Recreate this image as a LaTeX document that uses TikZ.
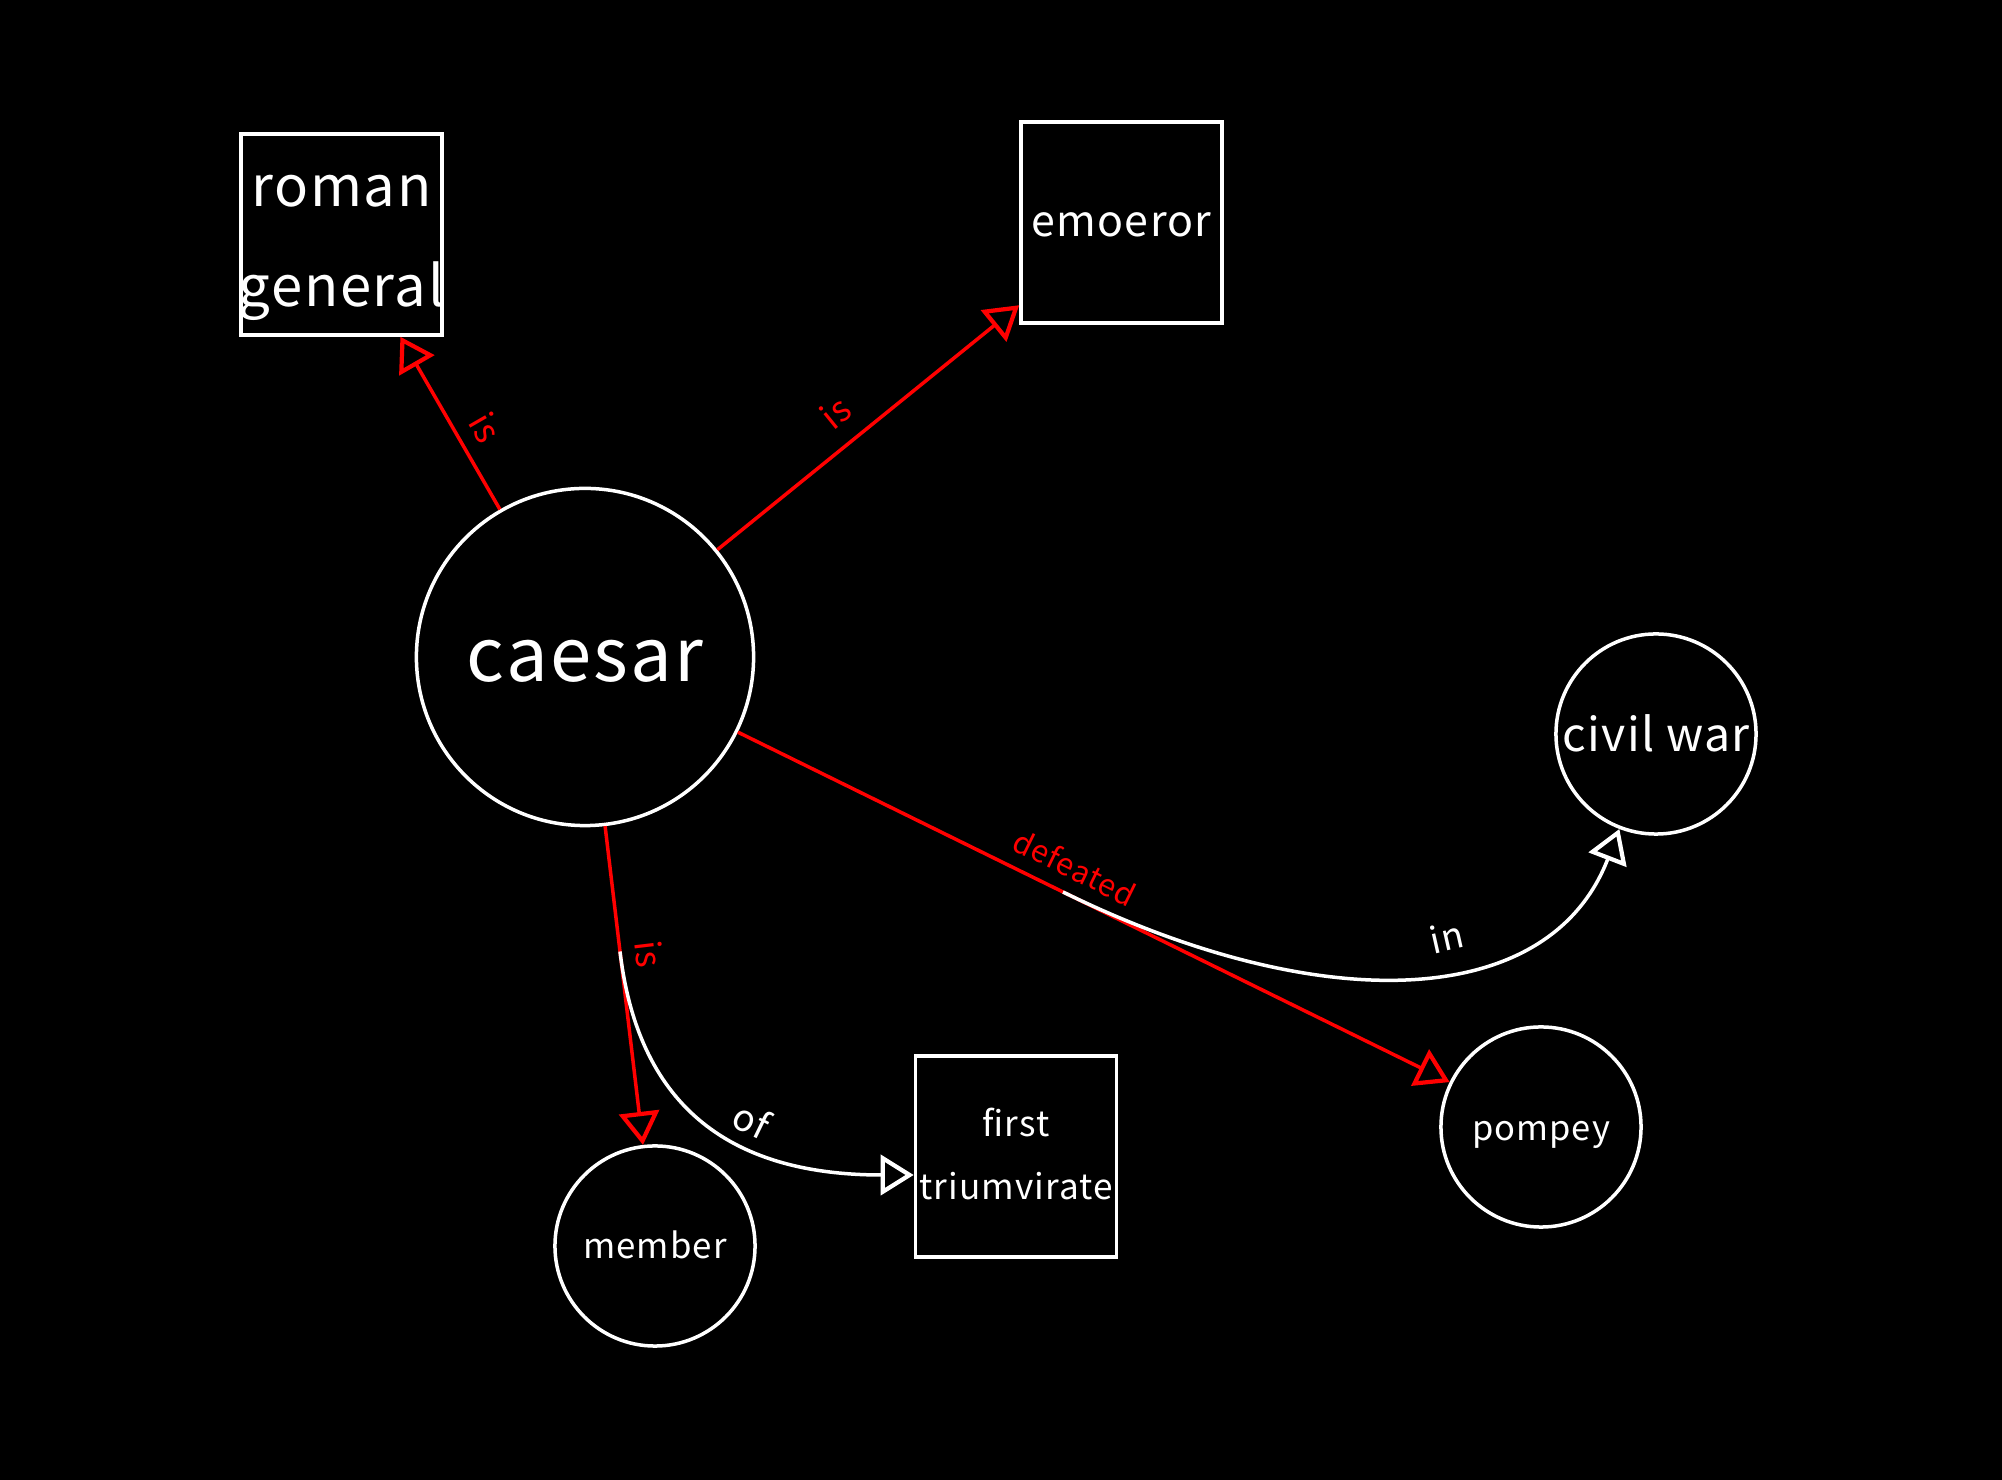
\documentclass[tikz,border=0pt]{standalone}
\usepackage{fontspec}
\setmainfont{Noto Sans CJK JP}[LetterSpace=3]
\usetikzlibrary{arrows.meta,calc}
\tikzset{
  conceptcircle/.style={circle, draw=white, line width=0.035cm, fill=black, text=white, inner sep=0pt, text depth=0pt},
  conceptbox/.style={rectangle, draw=white, line width=0.035cm, fill=black, text=white, inner xsep=-20pt, inner ysep=-20pt, text depth=0pt, minimum width=2.01cm, minimum height=2.01cm},
  redarrow/.style={draw=red, line width=0.035cm, -{Triangle[open, length=0.33cm, width=0.40cm, line width=1.2pt]}},
  whitearrow/.style={draw=white, line width=0.035cm, -{Triangle[open, length=0.33cm, width=0.40cm, line width=1.2pt]}},
  redlabel/.style={text=red, font=\fontsize{10pt}{12pt}\selectfont, inner sep=4pt},
  whitelabel/.style={text=white, inner sep=4pt}
}
\begin{document}
\begin{tikzpicture}[x=0.01cm, y=-0.01cm]
\fill[black] (0,0) rectangle (2002,1480);
\useasboundingbox (0,0) rectangle (2002,1480);

\node[conceptcircle, minimum size=3.37cm, text height=14.06pt, font=\fontsize{21.1pt}{25pt}\selectfont] (caesar) at (585,657) {caesar};
\node[conceptbox, align=center, text height=41.1pt, font=\fontsize{16pt}{28.45pt}\selectfont] (rg) at (341.5,234.5) {roman\\general};
\node[conceptbox, text height=8.08pt, font=\fontsize{12.2pt}{15pt}\selectfont] (emp) at (1121.5,222.5) {emoeror};
\node[conceptcircle, minimum size=2.0cm, text height=10.07pt, font=\fontsize{13.2pt}{16pt}\selectfont] (cw) at (1656,734) {civil war};
\node[conceptcircle, minimum size=2.0cm, text height=7.4pt, font=\fontsize{9.8pt}{12pt}\selectfont] (pom) at (1541,1127) {pompey};
\node[conceptcircle, minimum size=2.0cm, text height=7.0pt, font=\fontsize{9.9pt}{12pt}\selectfont] (mem) at (655,1246) {member};
\node[conceptbox, align=center, text height=24.35pt, font=\fontsize{10pt}{17.84pt}\selectfont] (ft) at (1016,1156.5) {first\\triumvirate};

% red relations
\draw[redarrow] (caesar) -- (rg);
\path (caesar.center) -- (rg.center) node[redlabel, pos=0.51, sloped, above] (l1) {is};
\draw[redarrow] (caesar) -- (emp);
\path (caesar.center) -- (emp.center) node[redlabel, inner sep=5pt, pos=0.505, sloped, above] (l2) {is};
\draw[redarrow] (caesar) -- (pom);
\path (caesar.center) -- (pom.center) coordinate[midway] (m3) node[redlabel, font=\fontsize{8.7pt}{10pt}\selectfont, midway, sloped, above] (l3) {defeated};
\draw[redarrow] (caesar) -- (mem);
\path (caesar.center) -- (mem.center) coordinate[midway] (m4) node[redlabel, pos=0.51, sloped, above] (l4) {is};

% relations on relations
\draw[whitearrow] (m3) .. controls ($(m3)!2.8cm!(pom.center)$) and ($(cw.center)+(-108,280)$) .. (cw)
  node[whitelabel, font=\fontsize{10.3pt}{12pt}\selectfont, pos=0.58, sloped, above=1pt] (l5) {in};
\draw[whitearrow] (m4) .. controls ($(m4)!1.5cm!(mem.center)$) and ($(ft.west)+(-190,18.5)$) .. ($(ft.west)+(0,18.5)$)
  node[whitelabel, font=\fontsize{10.5pt}{12pt}\selectfont, pos=0.62, sloped, above=-1.5pt] (l6) {of};
\end{tikzpicture}
\end{document}
